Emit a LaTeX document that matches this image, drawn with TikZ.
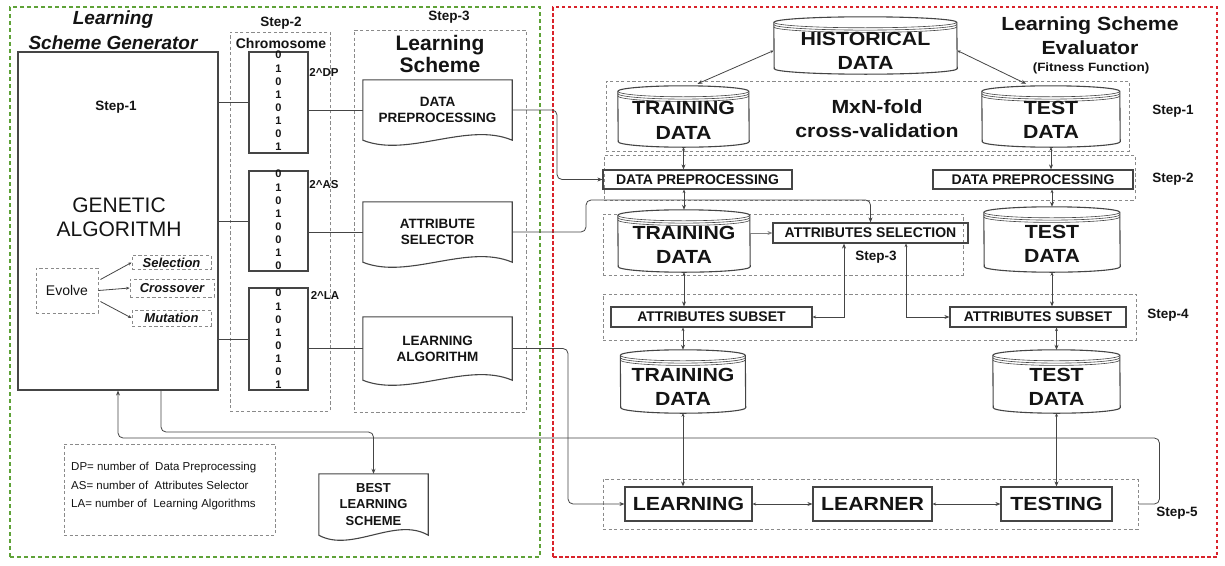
\documentclass[tikz,border=0pt]{standalone}
\usepackage{fontspec}
\setmainfont{Liberation Sans}
\newfontfamily\widesf[FakeStretch=1.12]{Liberation Sans}
\usetikzlibrary{arrows.meta,calc}

\definecolor{ink}{HTML}{141414}
\definecolor{edge}{HTML}{454545}
\definecolor{dashgrey}{HTML}{8A8A8A}
\definecolor{gengreen}{HTML}{5FA238}
\definecolor{evalred}{HTML}{D9232B}

\newcommand\fsz[2]{\fontsize{#1}{#2}\selectfont}

% database cylinder drawn around a named node: name, half width
\newcommand\drawcyl[2]{%
  \draw[cylline,fill=white] ([yshift=-5.5pt]#1.north west)
      arc[start angle=180,end angle=0,x radius=#2pt,y radius=5.5pt]
      -- ([yshift=5.5pt]#1.south east)
      arc[start angle=0,end angle=-180,x radius=#2pt,y radius=5.5pt] -- cycle;
  \foreach \s in {5.5pt,7.8pt,10.1pt}{
    \draw[stripe] ([yshift=-\s]#1.north west)
      arc[start angle=180,end angle=360,x radius=#2pt,y radius=5.5pt];}
}
% document shape with a wavy lower edge around a named node
\newcommand\drawdoc[1]{%
  \draw[cylline] (#1.north west) -- (#1.north east) -- (#1.south east)
    .. controls ($(#1.south east)!0.3!(#1.south west)+(0,-19)$)
            and ($(#1.south west)!0.3!(#1.south east)+(0,18)$) .. (#1.south west) -- cycle;
}

\begin{document}
\begin{tikzpicture}[x=1pt,y=-1pt,
  txt/.style={inner sep=0pt,text=ink},
  rbox/.style={draw=edge,line width=1.2pt,inner sep=0pt,text=ink,font=\bfseries\fsz{14}{16}},
  bigbox/.style={rbox,font=\widesf\bfseries\fsz{19}{22}},
  stepbox/.style={draw=dashgrey,dash pattern=on 3.2pt off 2.4pt,line width=0.9pt,inner sep=0pt},
  steplbl/.style={txt,font=\bfseries\fsz{13.5}{15}},
  cyltxt/.style={txt,align=center,font=\widesf\bfseries\fsz{19}{24.5}},
  doctxt/.style={txt,align=center,font=\bfseries\fsz{13.5}{16}},
  outerframe/.style={inner sep=0pt,line width=1.5pt},
  link/.style={draw=edge,line width=1pt},
  conn/.style={draw=edge,line width=0.8pt,-{Stealth[length=5pt,width=4pt]}},
  conn2/.style={draw=edge,line width=0.8pt,{Stealth[length=3.5pt,width=3pt]}-{Stealth[length=5pt,width=4pt]}},
  cylline/.style={draw=edge,line width=1.1pt},
  stripe/.style={draw=edge,line width=0.6pt},
  cylnode/.style={inner sep=0pt}
]
\fill[white] (0,0) rectangle (1225,565);
\useasboundingbox (0,0) rectangle (1225,565);

% ---------- outer frames ----------
\node[outerframe,draw=gengreen,dash pattern=on 4pt off 3pt,minimum width=530pt,minimum height=550pt] (genframe) at (275,282) {};
\node[outerframe,draw=evalred,dash pattern=on 3.5pt off 2.5pt,line width=1.8pt,minimum width=664pt,minimum height=550pt] (evalframe) at (885,282) {};

% ---------- Learning Scheme Generator ----------
\node[txt,font=\bfseries\itshape\fsz{19}{25},align=center] (gentitle) at (113,30.5) {Learning\\Scheme Generator};

\node[stepbox,minimum width=100pt,minimum height=379pt] (s2box) at (280,221.5) {};
\node[stepbox,minimum width=172pt,minimum height=382pt] (s3box) at (440,221) {};
\node[steplbl] (s2lbl) at (281,23) {Step-2};
\node[steplbl] (s3lbl) at (449,17) {Step-3};
\node[txt,font=\bfseries\fsz{14}{16}] (chromlbl) at (281,43) {Chromosome};
\node[txt,font=\bfseries\fsz{21}{22},align=center] (schemelbl) at (440,54) {Learning\\Scheme};

\node[rbox,line width=1.1pt,minimum width=200pt,minimum height=338pt] (ga) at (118,221) {};
\node[steplbl] (gastep) at (116,107) {Step-1};
\node[txt,font=\fsz{21}{24},align=center] (gatext) at (119,217) {GENETIC\\ALGORITMH};

\node[stepbox,minimum width=62pt,minimum height=45pt,text=ink,font=\fsz{14}{16}] (evolve) at (67,290.5) {Evolve};
\node[stepbox,minimum width=79pt,minimum height=14pt,text=ink,font=\bfseries\itshape\fsz{13}{15}] (sel) at (171.5,262.5) {Selection};
\node[stepbox,minimum width=84pt,minimum height=18pt,text=ink,font=\bfseries\itshape\fsz{13}{15}] (cross) at (172,288) {Crossover};
\node[stepbox,minimum width=79pt,minimum height=16pt,text=ink,font=\bfseries\itshape\fsz{13}{15}] (mut) at (171.5,318) {Mutation};
\draw[conn,-{Stealth[length=3.5pt,width=3pt]}] ([shift={(2,-11)}]evolve.east) -- (sel.west);
\draw[conn,-{Stealth[length=3.5pt,width=3pt]}] (evolve.east) -- (cross.west);
\draw[conn,-{Stealth[length=3.5pt,width=3pt]}] ([shift={(2,11)}]evolve.east) -- (mut.west);

% chromosomes
\node[rbox,line width=1.1pt,minimum width=59pt,minimum height=101pt] (chr1) at (278.5,102.5) {};
\node[rbox,line width=1.1pt,minimum width=59pt,minimum height=100pt] (chr2) at (278.5,221) {};
\node[rbox,line width=1.1pt,minimum width=59pt,minimum height=102pt] (chr3) at (278.5,339) {};
\node[txt,font=\bfseries\fsz{11}{13.1},align=center] (bits1) at (278.5,101) {0\\1\\0\\1\\0\\1\\0\\1};
\node[txt,font=\bfseries\fsz{11}{13.1},align=center] (bits2) at (278.5,220) {0\\1\\0\\1\\0\\0\\1\\0};
\node[txt,font=\bfseries\fsz{11}{13.1},align=center] (bits3) at (278.5,339) {0\\1\\0\\1\\0\\1\\0\\1};
\node[txt,font=\bfseries\fsz{11.5}{13}] (dpexp) at (324,72) {2\textasciicircum DP};
\node[txt,font=\bfseries\fsz{11.5}{13}] (asexp) at (324,185) {2\textasciicircum AS};
\node[txt,font=\bfseries\fsz{11.5}{13}] (laexp) at (325,295) {2\textasciicircum LA};

% learning scheme documents
\node[doctxt,minimum width=149pt,minimum height=60pt] (doc1) at (437.5,110) {DATA\\PREPROCESSING};
\node[doctxt,minimum width=149pt,minimum height=60pt] (doc2) at (437.5,232) {ATTRIBUTE\\SELECTOR};
\node[doctxt,minimum width=149pt,minimum height=63pt] (doc3) at (437.5,348.5) {LEARNING\\ALGORITHM};
\drawdoc{doc1}
\drawdoc{doc2}
\drawdoc{doc3}

\node[txt,align=center,font=\bfseries\fsz{13}{16.5},minimum width=109pt,minimum height=61pt] (best) at (373.5,504.5) {BEST\\LEARNING\\SCHEME};
\drawdoc{best}

% legend
\node[stepbox,minimum width=211pt,minimum height=91pt] (legend) at (169.5,489.5) {};
\node[txt,font=\fsz{11.5}{18.5},align=left,anchor=west] (legendtxt) at (71,486.5)
  {DP= number of\ \ Data Preprocessing\\AS= number of\ \ Attributes Selector\\LA= number of\ \ Learning Algorithms};

% links between generator parts
\draw[link] (chr1.west -| ga.east) -- (chr1.west);
\draw[link] (chr2.west -| ga.east) -- (chr2.west);
\draw[link] (chr3.west -| ga.east) -- (chr3.west);
\draw[link] (doc1.west -| chr1.east) -- (doc1.west);
\draw[link] (doc2.west -| chr2.east) -- (doc2.west);
\draw[link] (doc3.west -| chr3.east) -- (doc3.west);

% ---------- Learning Scheme Evaluator ----------
\node[txt,align=center,font=\widesf\bfseries\fsz{19}{24}] (evaltitle) at (1090,36) {Learning Scheme\\Evaluator};
\node[txt,font=\widesf\bfseries\fsz{12}{14}] (fitness) at (1091,68) {(Fitness Function)};

% step frames
\node[stepbox,minimum width=523pt,minimum height=70pt] (s1box) at (867.5,116) {};
\node[stepbox,minimum width=531pt,minimum height=45pt] (s2rbox) at (869.5,177.5) {};
\node[stepbox,minimum width=360pt,minimum height=61pt] (s3rbox) at (783,244.5) {};
\node[stepbox,minimum width=533pt,minimum height=46pt] (s4box) at (869.5,317) {};
\node[stepbox,minimum width=535pt,minimum height=50pt] (s5box) at (870.5,504) {};
\node[steplbl] (st1) at (1173,111) {Step-1};
\node[steplbl] (st2) at (1173,179) {Step-2};
\node[steplbl] (st3) at (876,257) {Step-3};
\node[steplbl] (st4) at (1168,315) {Step-4};
\node[steplbl] (st5) at (1177,513) {Step-5};

% data stores
\node[cylnode,minimum width=183pt,minimum height=57pt] (hist) at (865.5,45.5) {};
\node[cylnode,minimum width=131pt,minimum height=61pt] (train1) at (683.5,116.5) {};
\node[cylnode,minimum width=138pt,minimum height=61pt] (test1) at (1051,116.5) {};
\node[cylnode,minimum width=132pt,minimum height=62pt] (train2) at (684,241) {};
\node[cylnode,minimum width=136pt,minimum height=65pt] (test2) at (1052,239.5) {};
\node[cylnode,minimum width=125pt,minimum height=63pt] (train3) at (683,381.5) {};
\node[cylnode,minimum width=127pt,minimum height=63pt] (test3) at (1056.5,381.5) {};
\drawcyl{hist}{91.5}
\drawcyl{train1}{65.5}
\drawcyl{test1}{69}
\drawcyl{train2}{66}
\drawcyl{test2}{68}
\drawcyl{train3}{62.5}
\drawcyl{test3}{63.5}
\node[cyltxt] (histtxt) at (865.5,51) {HISTORICAL\\DATA};
\node[cyltxt] (train1txt) at (683.5,120.5) {TRAINING\\DATA};
\node[cyltxt] (test1txt) at (1051,120) {TEST\\DATA};
\node[cyltxt] (train2txt) at (684,245) {TRAINING\\DATA};
\node[cyltxt] (test2txt) at (1052,244) {TEST\\DATA};
\node[cyltxt] (train3txt) at (683,387) {TRAINING\\DATA};
\node[cyltxt] (test3txt) at (1056.5,387) {TEST\\DATA};
\node[cyltxt] (cvtxt) at (877,118.5) {MxN-fold\\cross-validation};

% processing boxes
\node[rbox,minimum width=189pt,minimum height=19pt] (dp1) at (697.5,179.5) {DATA PREPROCESSING};
\node[rbox,minimum width=200pt,minimum height=19pt] (dp2) at (1033,179.5) {DATA PREPROCESSING};
\node[rbox,minimum width=195pt,minimum height=20pt] (asel) at (870.5,233) {ATTRIBUTES SELECTION};
\node[rbox,minimum width=201pt,minimum height=20pt] (as1) at (711.5,317) {ATTRIBUTES SUBSET};
\node[rbox,minimum width=176pt,minimum height=20pt] (as2) at (1038,317) {ATTRIBUTES SUBSET};
\node[bigbox,minimum width=127pt,minimum height=34pt] (learn) at (688.5,504) {LEARNING};
\node[bigbox,minimum width=119pt,minimum height=34pt] (learner) at (872.5,504) {LEARNER};
\node[bigbox,minimum width=111pt,minimum height=34pt] (testing) at (1056.5,504) {TESTING};

% evaluator connectors
\draw[conn2] ($(hist.west)+(0,5)$) -- ($(train1.north)+(14,-2)$);
\draw[conn2] ($(hist.east)+(0,5)$) -- ($(test1.north)+(-25,-2)$);
\draw[conn2] (train1.south) -- (train1.south |- dp1.north);
\draw[conn2] (test1.south) -- (test1.south |- dp2.north);
\draw[conn2] (train2.north |- dp1.south) -- (train2.north);
\draw[conn2] (test2.north |- dp2.south) -- (test2.north);
\draw[conn,draw=gray] (asel.west -| train2.east) -- (asel.west);
\draw[conn2] (train2.south) -- (train2.south |- as1.north);
\draw[conn2] (test2.south) -- (test2.south |- as2.north);
\coordinate (j5) at (844,0);
\coordinate (j6) at (906,0);
\draw[conn2] (as1.east) -- (as1.east -| j5) -- (j5 |- asel.south);
\draw[conn2] (j6 |- asel.south) -- (j6 |- as2.west) -- (as2.west);
\draw[conn2] (train3.north |- as1.south) -- (train3.north);
\draw[conn2] (test3.north |- as2.south) -- (test3.north);
\draw[conn2] (train3.south) -- (train3.south |- learn.north);
\draw[conn2] (test3.south) -- (test3.south |- testing.north);
\draw[conn2] (learn.east) -- (learner.west);
\draw[conn2] (learner.east) -- (testing.west);

% scheme parts feeding the evaluator
\coordinate (j1) at (557,0);
\coordinate (j2) at (586,200);
\coordinate (j4) at (568,0);
\draw[conn,rounded corners=5pt] (doc1.east) -- (doc1.east -| j1) |- (dp1.west);
\draw[conn,rounded corners=5pt] (doc2.east) -| (j2) -| (asel.north);
\draw[conn,rounded corners=5pt] (doc3.east) -- (doc3.east -| j4) |- (learn.west);

% fitness feedback and final output
\coordinate (fbk) at (118,438);
\coordinate (bturn) at (161,432);
\draw[conn,rounded corners=5pt] (s5box.east) -- ++(21,0) |- (fbk) -- (fbk |- ga.south);
\draw[conn,rounded corners=5pt] (bturn |- ga.south) -- (bturn) -| (best.north);
\end{tikzpicture}
\end{document}
